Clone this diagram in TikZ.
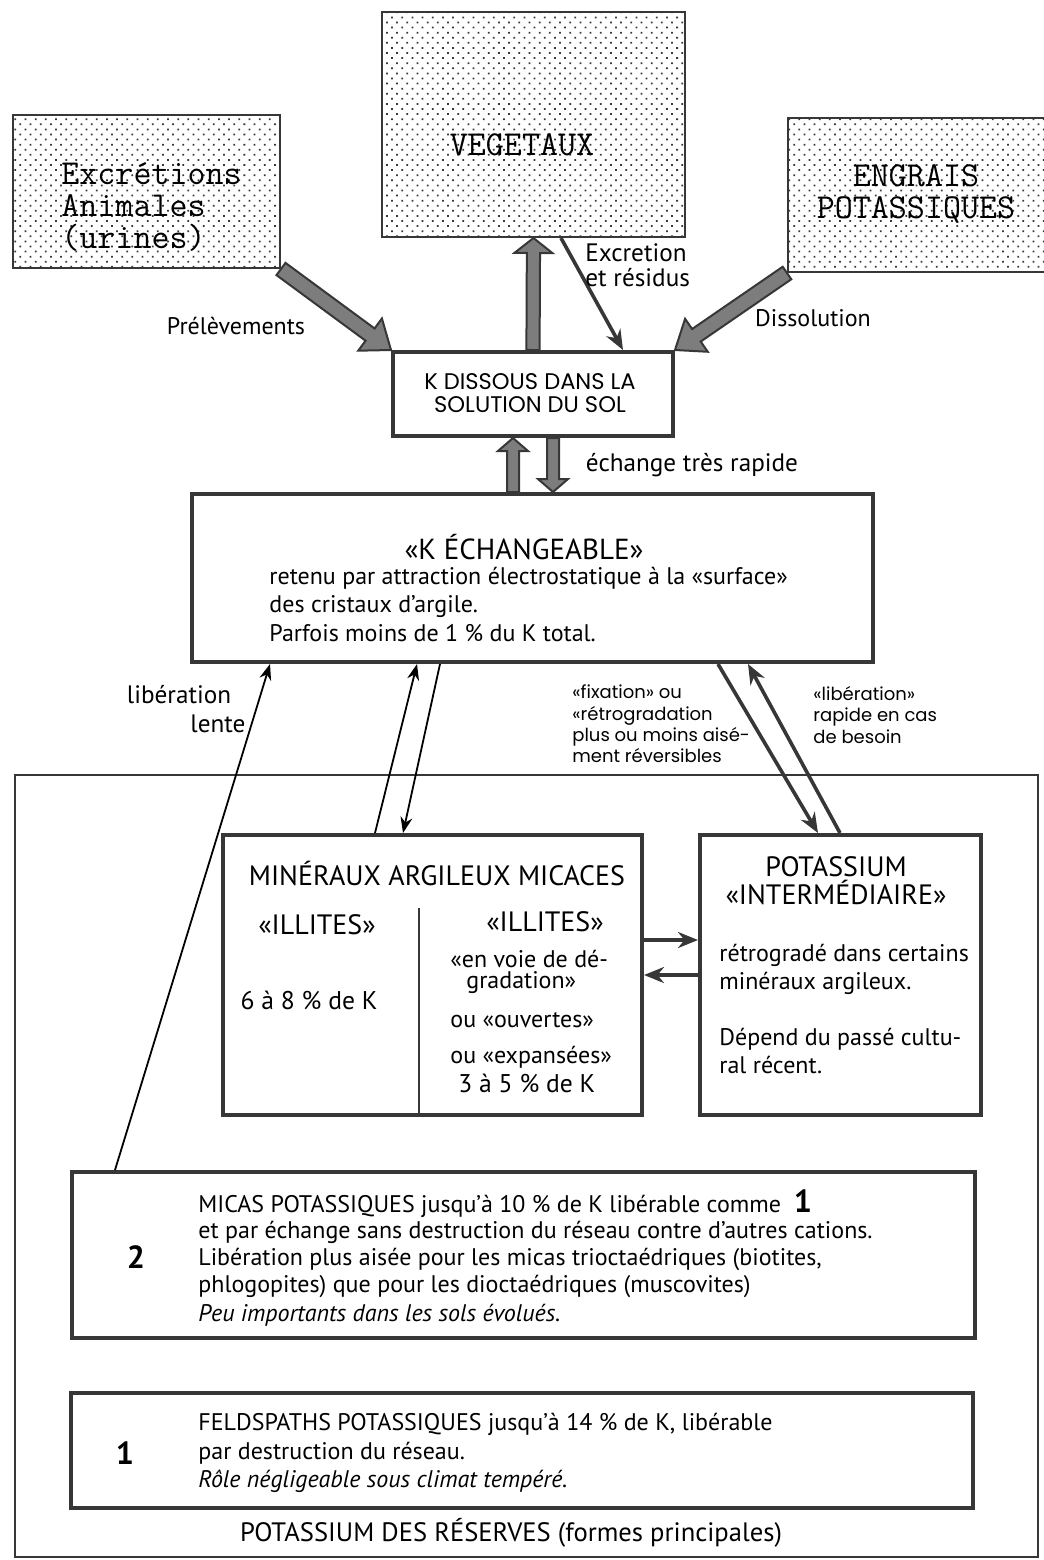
\documentclass[tikz,border=0pt]{standalone}
\usepackage{fontspec}
\setmainfont{PT Sans}
\newfontfamily\geofont{Poppins}
\usetikzlibrary{arrows.meta, positioning, calc, patterns.meta}
\definecolor{inkgray}{RGB}{55,55,55}
\definecolor{flowgray}{RGB}{125,125,125}
\tikzset{
    dotbox/.style={rectangle, draw=inkgray, line width=1pt, inner sep=0pt,
                   pattern={Dots[distance=3.6pt, angle=45, radius=0.62pt]}, pattern color=inkgray},
    box/.style={rectangle, draw=inkgray, line width=2pt, inner sep=0pt},
    outerframe/.style={rectangle, draw=inkgray, line width=1pt, inner sep=0pt},
    typew/.style={inner sep=0pt, font=\ttfamily\fontsize{17.5}{15.8}\selectfont},
    lbl/.style={inner sep=0pt, font=\fontsize{12}{14.25}\selectfont},
    capslbl/.style={inner sep=0pt, font=\fontsize{14}{14}\selectfont},
    geo/.style={inner sep=0pt, font=\geofont\fontsize{9}{10.7}\selectfont},
    numb/.style={inner sep=0pt, font=\bfseries\fontsize{16}{16}\selectfont},
    fatflow/.style={fill=flowgray, draw=inkgray, line width=1pt, line join=miter},
    medarrow/.style={draw=inkgray, line width=1.8pt, -{Stealth[length=10pt, width=8pt, fill=flowgray]}},
    thinarrow/.style={draw=black, line width=0.9pt, -{Stealth[length=8pt, width=6pt]}}
}
% broad grey arrow: tail, tip, shaft half-width, head half-width, head length
\newcommand{\flowarrow}[5]{%
    \coordinate (fa-a) at (#1);
    \coordinate (fa-b) at (#2);
    \coordinate (fa-c) at ($(fa-b)!#5!(fa-a)$);
    \filldraw[fatflow] ($(fa-a)!#3!90:(fa-b)$) -- ($(fa-c)!#3!-90:(fa-a)$)
        -- ($(fa-c)!#4!-90:(fa-a)$) -- (fa-b) -- ($(fa-c)!#4!90:(fa-a)$)
        -- ($(fa-c)!#3!90:(fa-a)$) -- ($(fa-a)!#3!-90:(fa-b)$) -- cycle;
}

\begin{document}
\begin{tikzpicture}[x=0.5pt, y=-0.5pt]
    \useasboundingbox (0,0) rectangle (1044,1560);

    % Sources
    \node[dotbox, minimum width=133.5pt, minimum height=76.5pt] (exc) at (146.5,191.5) {};
    \node[dotbox, minimum width=151.5pt, minimum height=112.5pt] (veg) at (533.5,124.5) {};
    \node[dotbox, minimum width=130pt, minimum height=77pt] (eng) at (918,195) {};
    \node[typew, align=left, anchor=west] (exctxt) at (61,207) {Excrétions\\Animales\\(urines)};
    \node[typew] (vegtxt) at (522,145) {VEGETAUX};
    \node[typew, align=center] (engtxt) at (916,194) {ENGRAIS\\POTASSIQUES};

    % Soil solution and exchangeable K
    \node[box, minimum width=140pt, minimum height=42pt] (diss) at (533,394) {};
    \node[geo, font=\geofont\fontsize{11.3}{11.5}\selectfont, align=center] (disstxt) at (530,393) {K DISSOUS DANS LA\\SOLUTION DU SOL};
    \node[box, minimum width=340.5pt, minimum height=84pt] (ech) at (532.5,578) {};
    \node[capslbl, font=\fontsize{14.5}{14}\selectfont] (echtitle) at (524,547) {«K ÉCHANGEABLE»};
    \node[lbl, align=left, anchor=west] (echtxt) at (269,604) {retenu par attraction électrostatique à la «surface»\\des cristaux d’argile.\\Parfois moins de 1 \% du K total.};

    % Reserves
    \node[outerframe, minimum width=511.5pt, minimum height=391pt] (res) at (526.5,1166) {};
    \node[box, minimum width=209.5pt, minimum height=140pt] (min) at (432.5,975) {};
    \node[box, minimum width=140.5pt, minimum height=140pt] (pint) at (840.5,975) {};
    \node[box, minimum width=451.5pt, minimum height=83pt] (micas) at (523.5,1255) {};
    \node[box, minimum width=451pt, minimum height=57.5pt] (feld) at (522,1450.5) {};
    \draw[inkgray, line width=1pt] ($(min.north west)+(198,75)$) -- ($(min.south west)+(198,0)$);

    % Fluxes around the soil solution
    \flowarrow{exc.south east}{diss.north west}{3.8pt}{10pt}{13pt}
    \flowarrow{eng.south west}{diss.north east}{3.8pt}{10pt}{13pt}
    \flowarrow{diss.north}{veg.south}{3.3pt}{9.5pt}{7.5pt}
    \draw[medarrow] ($(veg.south west)+(180,0)$) -- ($(diss.north west)+(232,0)$);
    \flowarrow{$(ech.north west)+(323,0)$}{$(diss.south west)+(122,0)$}{3pt}{7.5pt}{6.5pt}
    \flowarrow{$(diss.south west)+(162,0)$}{$(ech.north west)+(363,0)$}{3pt}{7.5pt}{6.5pt}

    % Exchanges with the reserves
    \draw[thinarrow] ($(micas.north west)+(45,0)$) -- ($(ech.south west)+(80,0)$);
    \draw[thinarrow] ($(min.north west)+(154,0)$) -- ($(ech.south west)+(227,0)$);
    \draw[thinarrow] ($(ech.south west)+(250,0)$) -- ($(min.north west)+(182,0)$);
    \draw[medarrow] ($(ech.south west)+(528,0)$) -- ($(pint.north west)+(120,0)$);
    \draw[medarrow] ($(pint.north west)+(142,0)$) -- ($(ech.south west)+(558,0)$);
    \draw[medarrow] ($(min.north east)+(0,107)$) -- ($(pint.north west)+(0,107)$);
    \draw[medarrow] (pint.west) -- (min.east);

    % Labels
    \node[lbl] (prel) at (236,326) {Prélèvements};
    \node[lbl] (dissol) at (813,318) {Dissolution};
    \node[lbl, align=left, anchor=west, font=\fontsize{12.6}{12.5}\selectfont] (excr) at (585,265) {Excretion\\et résidus};
    \node[lbl, font=\fontsize{12.6}{14}\selectfont] (rapide) at (692,465) {échange très rapide};
    \node[lbl, font=\fontsize{12.6}{14}\selectfont] (lib1) at (179,695) {libération};
    \node[lbl, font=\fontsize{12.6}{14}\selectfont] (lib2) at (218,724) {lente};
    \node[geo, align=left, anchor=west] (fixlbl) at (572,724) {«fixation» ou\\«rétrogradation\\plus ou moins aisé-\\ment réversibles};
    \node[geo, align=left, anchor=west] (librap) at (813,715) {«libération»\\rapide en cas\\de besoin};

    % Micaceous clay minerals
    \node[capslbl] (mintitle) at (437,873) {MINÉRAUX ARGILEUX MICACES};
    \node[capslbl] (illa) at (317,925) {«ILLITES»};
    \node[lbl, font=\fontsize{12.8}{14}\selectfont] (pcta) at (309,1000) {6 à 8 \% de K};
    \node[capslbl] (illb) at (545,922) {«ILLITES»};
    \node[lbl, align=left, anchor=west, font=\fontsize{12}{10.5}\selectfont] (deg) at (450,972) {«en voie de dé-\\\hspace*{8pt}gradation»};
    \node[lbl, anchor=west] (ouv) at (450,1020) {ou «ouvertes»};
    \node[lbl, anchor=west] (expa) at (450,1057) {ou «expansées»};
    \node[lbl, anchor=west, font=\fontsize{12.8}{14}\selectfont] (pctb) at (458,1083) {3 à 5 \% de K};

    % Intermediate potassium
    \node[capslbl, align=center] (pinttitle) at (836,881) {POTASSIUM\\«INTERMÉDIAIRE»};
    \node[lbl, align=left, anchor=west, font=\fontsize{12}{14}\selectfont] (pinta) at (719,969) {rétrogradé dans certains\\minéraux argileux.};
    \node[lbl, align=left, anchor=west, font=\fontsize{12}{14}\selectfont] (pintb) at (719,1051) {Dépend du passé cultu-\\ral récent.};

    % Micas and feldspars
    \node[numb] (numtwo) at (136,1257) {2};
    \node[lbl, align=left, anchor=west, font=\fontsize{12}{13.3}\selectfont] (micastxt) at (198,1258) {MICAS POTASSIQUES jusqu’à 10 \% de K libérable comme \ {\bfseries\fontsize{16}{13}\selectfont 1}\\et par échange sans destruction du réseau contre d’autres cations.\\Libération plus aisée pour les micas trioctaédriques (biotites,\\phlogopites) que pour les dioctaédriques (muscovites)\\[1.5pt]\textit{Peu importants dans les sols évolués.}};
    \node[numb] (numone) at (125,1453) {1};
    \node[lbl, align=left, anchor=west] (feldtxt) at (198,1453) {FELDSPATHS POTASSIQUES jusqu’à 14 \% de K, libérable\\par destruction du réseau.\\\textit{Rôle négligeable sous climat tempéré.}};
    \node[lbl, font=\fontsize{13.3}{14}\selectfont] (restitle) at (511,1533) {POTASSIUM DES RÉSERVES (formes principales)};
\end{tikzpicture}
\end{document}
